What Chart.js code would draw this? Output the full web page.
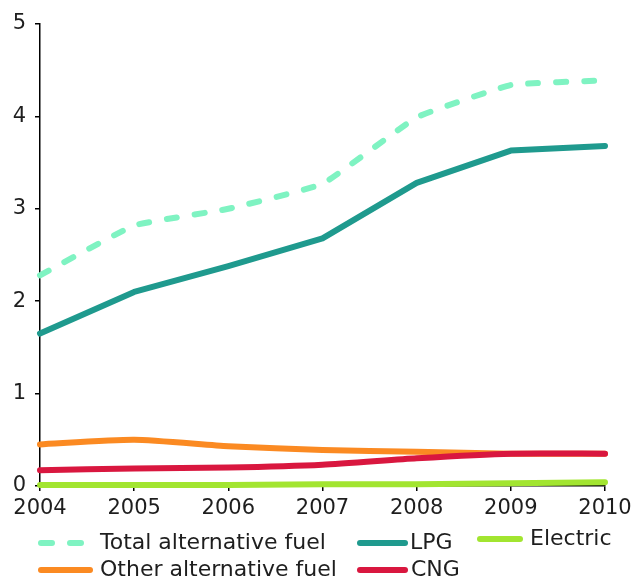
<!DOCTYPE html>
<html>
<head>
<meta charset="utf-8">
<script src="https://cdn.jsdelivr.net/npm/chart.js@4/dist/chart.umd.min.js"></script>
<style>
  html, body { margin: 0; padding: 0; background: #fff; }
  #wrap { width: 641px; height: 580px; position: relative; }
</style>
</head>
<body>
<div id="wrap"><canvas id="fuelChart" width="641" height="580"></canvas></div>
<script>
// Alternative fuel share chart
const years = ['2004', '2005', '2006', '2007', '2008', '2009', '2010'];
const totalAlt = [2.28, 2.82, 3.00, 3.27, 3.99, 4.34, 4.39];
const lpg = [1.65, 2.10, 2.38, 2.68, 3.28, 3.63, 3.68];
const otherAlt = [0.45, 0.50, 0.43, 0.39, 0.37, 0.35, 0.35];
const cng = [0.17, 0.19, 0.20, 0.23, 0.30, 0.35, 0.35];
const electric = [0.01, 0.01, 0.01, 0.02, 0.02, 0.03, 0.04];
const yTicks = [0, 1, 2, 3, 4, 5];

const FONT = 'DejaVu Sans, Verdana, sans-serif';
const TEXT = '#1e1e1e';

// legend is drawn by hand: two rows, fixed columns like the original
const legendPlugin = {
  id: 'fixedLegend',
  afterDraw(chart) {
    const ctx = chart.ctx;
    const slots = [
      { ds: 0, x: 38, y: 543, w: 55, gap: 7 },
      { ds: 1, x: 357, y: 543, w: 51, gap: 2 },
      { ds: 4, x: 477, y: 539, w: 46, gap: 7 },
      { ds: 3, x: 38, y: 570, w: 55, gap: 7 },
      { ds: 2, x: 357, y: 570, w: 51, gap: 3 }
    ];
    ctx.save();
    ctx.font = '22px ' + FONT;
    ctx.textBaseline = 'middle';
    ctx.fillStyle = TEXT;
    slots.forEach(s => {
      const d = chart.data.datasets[s.ds];
      ctx.beginPath();
      ctx.strokeStyle = d.borderColor;
      ctx.lineWidth = 6;
      ctx.lineCap = 'round';
      ctx.setLineDash(d.borderDash ? [11, 18] : []);
      ctx.moveTo(s.x + 3, s.y);
      ctx.lineTo(s.x + s.w - 3, s.y);
      ctx.stroke();
      ctx.setLineDash([]);
      ctx.fillText(d.label, s.x + s.w + s.gap, s.y);
    });
    ctx.restore();
  }
};

function lineSet(label, data, color, extra) {
  return Object.assign({
    label, data, borderColor: color, backgroundColor: color,
    borderWidth: 6, pointRadius: 0, pointHoverRadius: 0,
    borderJoinStyle: 'round', borderCapStyle: 'round', tension: 0, clip: false, fill: false
  }, extra || {});
}

new Chart(document.getElementById('fuelChart'), {
  type: 'line',
  data: {
    labels: years,
    datasets: [
      lineSet('Total alternative fuel', totalAlt, '#7ff3c2', { borderDash: [10, 18], tension: 0.1 }),
      lineSet('LPG', lpg, '#1f9a8e'),
      lineSet('CNG', cng, '#d9173f', { tension: 0.2 }),
      lineSet('Other alternative fuel', otherAlt, '#fb8a22', { tension: 0.2 }),
      lineSet('Electric', electric, '#a2e530')
    ]
  },
  options: {
    responsive: false,
    animation: false,
    layout: { padding: { top: 24, right: 36, bottom: 60, left: 0 } },
    plugins: { legend: { display: false }, tooltip: { enabled: false } },
    scales: {
      x: {
        offset: false,
        grid: { drawOnChartArea: false, drawTicks: true, tickLength: 5, color: '#000', lineWidth: 1.5 },
        border: { display: true, color: '#000', width: 1.5 },
        ticks: { color: TEXT, font: { family: FONT, size: 21 }, padding: 5, maxRotation: 0, autoSkip: false },
        afterFit(scale) { scale.height = 34; }
      },
      y: {
        min: 0, max: 5,
        afterBuildTicks(scale) { scale.ticks = yTicks.map(v => ({ value: v })); },
        grid: { drawOnChartArea: false, drawTicks: true, tickLength: 5, color: '#000', lineWidth: 1.5 },
        border: { display: true, color: '#000', width: 1.5 },
        ticks: { color: TEXT, font: { family: FONT, size: 21 }, padding: 9 },
        afterFit(scale) { scale.width = 40; }
      }
    }
  },
  plugins: [legendPlugin]
});
</script>
</body>
</html>
